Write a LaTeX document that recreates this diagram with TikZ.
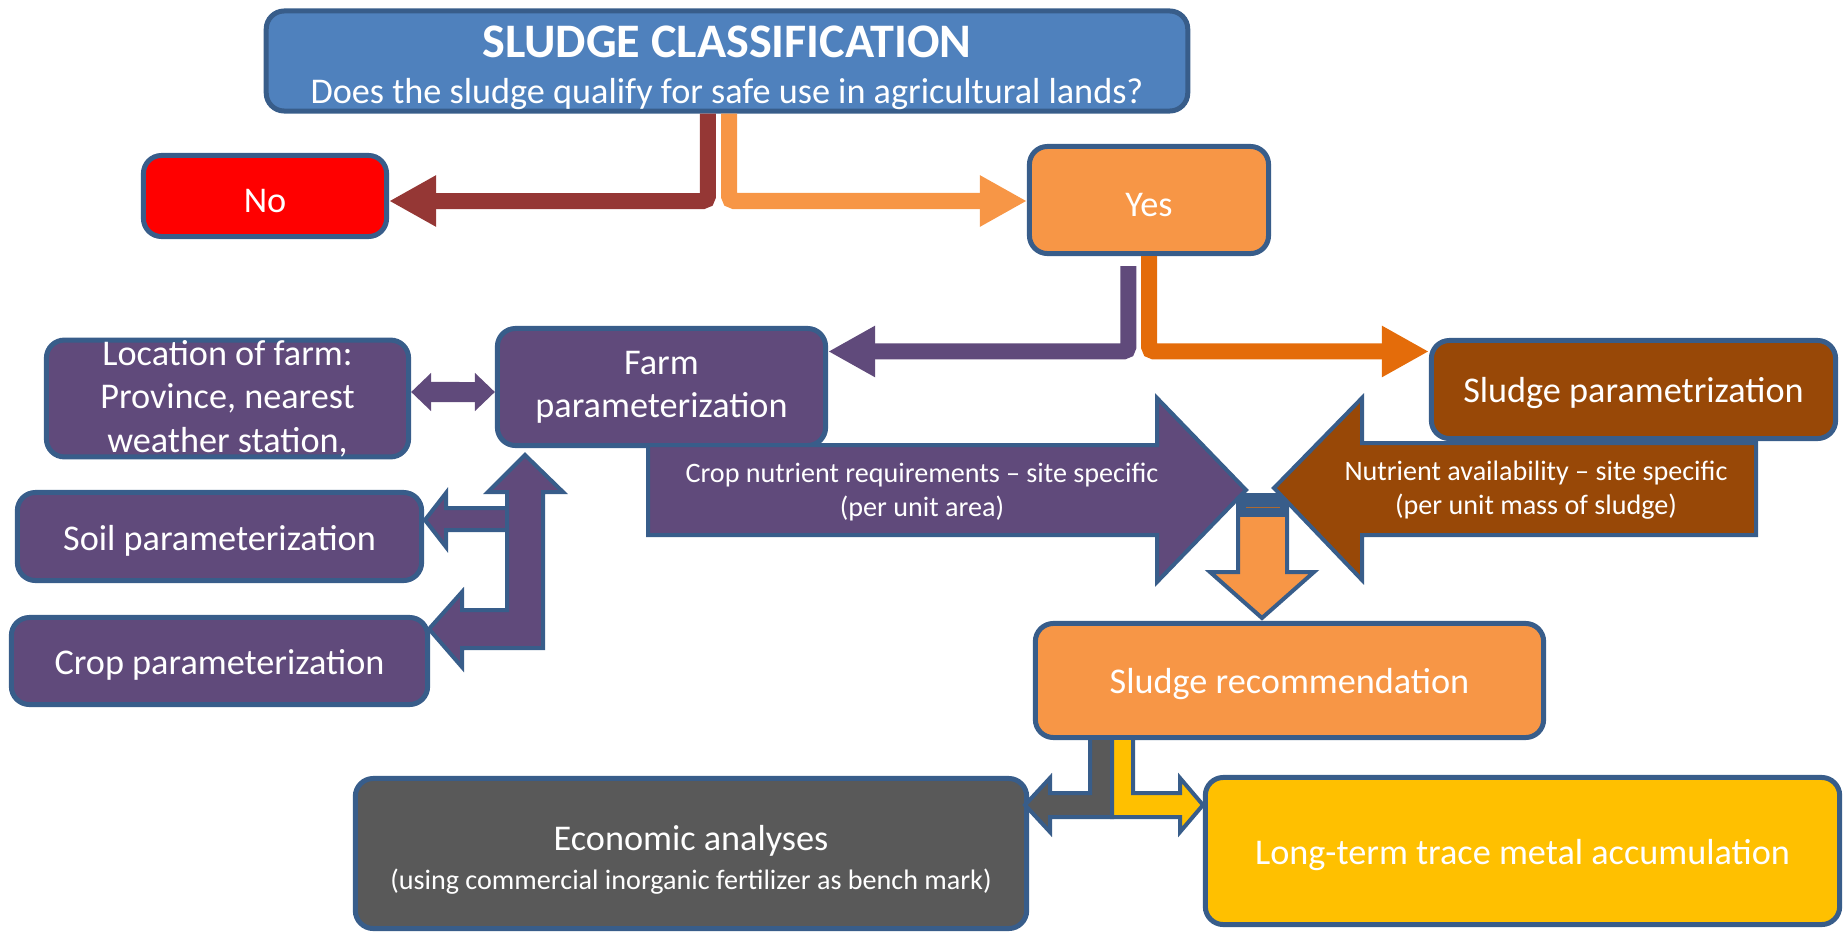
\documentclass[tikz,border=0pt]{standalone}
\usepackage{fontspec}
\setmainfont{Carlito}
\usetikzlibrary{arrows.meta}

\definecolor{edge}{HTML}{385D8A}
\definecolor{sblue}{HTML}{4F81BD}
\definecolor{sorange}{HTML}{F79646}
\definecolor{sdeeporange}{HTML}{E46C0A}
\definecolor{sbrown}{HTML}{984807}
\definecolor{sred}{HTML}{953735}
\definecolor{spurple}{HTML}{604A7B}
\definecolor{sgray}{HTML}{595959}
\definecolor{syellow}{HTML}{FFC000}

\tikzset{
	box/.style={draw=edge,line width=0.05cm,rounded corners=0.18cm,text=white,align=center,
		inner sep=0pt,font=\fontsize{10.3}{12.25}\selectfont,execute at begin node={\rule{0pt}{0.33cm}}},
	small/.style={text=white,align=center,font=\fontsize{8}{9.8}\selectfont},
	pipe/.style={line width=0.16cm,rounded corners=0.05cm,-{Triangle[width=0.48cm,length=0.47cm]}},
	twoway/.style={spurple,line width=0.2cm,{Triangle[width=0.37cm,length=0.2cm]}-{Triangle[width=0.37cm,length=0.2cm]}},
	block/.style={draw=edge,line width=0.04cm},
}

\begin{document}
\begin{tikzpicture}[x=0.01cm,y=-0.01cm]
	\useasboundingbox (0,0) rectangle (1847,933);

	\node[box,fill=sblue,minimum width=9.21cm,minimum height=1.0cm,font=\fontsize{10.3}{13}\selectfont] (top) at (727,61)
		{\rule{0pt}{0.45cm}{\fontsize{13.7}{15}\selectfont\bfseries SLUDGE CLASSIFICATION}\\Does the sludge qualify for safe use in agricultural lands?};
	\node[box,fill=red,minimum width=2.43cm,minimum height=0.81cm,execute at begin node={\rule{0pt}{0.27cm}}] (no) at (265,196) {No};
	\node[box,fill=sorange,minimum width=2.39cm,minimum height=1.07cm,execute at begin node={\rule{0pt}{0.27cm}}] (yes) at (1149,200) {Yes};
	\node[box,fill=spurple,minimum width=3.28cm,minimum height=1.17cm,execute at begin node={\rule{0pt}{0.4cm}}] (farm) at (661.5,387) {Farm\\parameterization};
	\node[box,fill=sbrown,minimum width=4.04cm,minimum height=0.98cm] (sparam) at (1633.5,389.5) {Sludge parametrization};
	\node[box,fill=spurple,minimum width=3.62cm,minimum height=1.14cm,font=\fontsize{10.3}{12.4}\selectfont,
		execute at begin node={\rule{0pt}{0.38cm}}] (loc) at (227.5,398.5)
		{Location of farm:\\Province, nearest\\weather station,};
	\node[box,fill=spurple,minimum width=4.04cm,minimum height=0.88cm] (soil) at (219.5,536.5) {Soil parameterization};
	\node[box,fill=spurple,minimum width=4.16cm,minimum height=0.87cm] (crop) at (219.5,661) {Crop parameterization};
	\node[box,fill=sorange,minimum width=5.08cm,minimum height=1.14cm] (rec) at (1289.5,680.5) {Sludge recommendation};
	\node[box,fill=sgray,minimum width=6.71cm,minimum height=1.5cm,font=\fontsize{10.3}{11.1}\selectfont] (econ) at (691,853.5)
		{\rule{0pt}{0.38cm}Economic analyses\\{\fontsize{8}{9.8}\selectfont (using commercial inorganic fertilizer as bench mark)}};
	\node[box,fill=syellow,minimum width=6.34cm,minimum height=1.47cm] (metal) at (1522.5,851) {Long-term trace metal accumulation};

	\draw[pipe,sred] ([xshift=-0.19cm]top.south) |- ([yshift=-0.05cm]no.east);
	\draw[pipe,sorange] ([xshift=0.02cm]top.south) |- ([yshift=-0.01cm]yes.west);
	\draw[pipe,spurple] ([xshift=-0.205cm,yshift=-0.1cm]yes.south) |- ([yshift=0.355cm]farm.east);
	\draw[pipe,sdeeporange] (yes.south) |- ([yshift=0.38cm]sparam.west);
	\draw[twoway] ([yshift=0.065cm]loc.east) -- ([yshift=-0.05cm]farm.west);

	% feedback arrows on the left
	\draw[block,fill=spurple] (507,530) -- (446,530) -- (446,547) -- (425,520) -- (446,493) -- (446,508) -- (507,508);
	\draw[block,fill=spurple] (525,455) -- (563,492) -- (543,492) -- (543,648) -- (462,648) -- (462,667) -- (429,629)
		-- (462,592) -- (462,610) -- (507,610) -- (507,492) -- (488,492) -- cycle;

	% the two inputs meet and feed the recommendation
	\draw[block,fill=sorange] (1238,495) -- (1287,495) -- (1287,572) -- (1314,572) -- (1262,618) -- (1210,572) -- (1238,572) -- cycle;
	\fill[edge] (1238,495) rectangle (1287,517);
	\draw[sorange!70!black,line width=0.01cm] (1246,507) -- (1280,507);
	\draw[block,fill=spurple] (648,445) -- (1157,445) -- (1157,398) -- (1246,490) -- (1157,582) -- (1157,535) -- (648,535) -- cycle;
	\draw[block,fill=sbrown] (1756,443) -- (1362,443) -- (1362,398) -- (1274,488) -- (1362,580) -- (1362,535) -- (1756,535) -- cycle;
	\node[small] (need) at (922,492) {Crop nutrient requirements – site specific\\(per unit area)};
	\node[small] (avail) at (1536,490) {Nutrient availability – site specific\\(per unit mass of sludge)};

	\draw[block,fill=sgray] (1090,740) -- (1090,793) -- (1050,793) -- (1050,778) -- (1025,805) -- (1050,832) -- (1050,817)
		-- (1112,817) -- (1112,740);
	\draw[block,fill=syellow] (1112,740) -- (1112,817) -- (1180,817) -- (1180,832) -- (1203,805) -- (1180,778) -- (1180,793)
		-- (1133,793) -- (1133,740);
\end{tikzpicture}
\end{document}
